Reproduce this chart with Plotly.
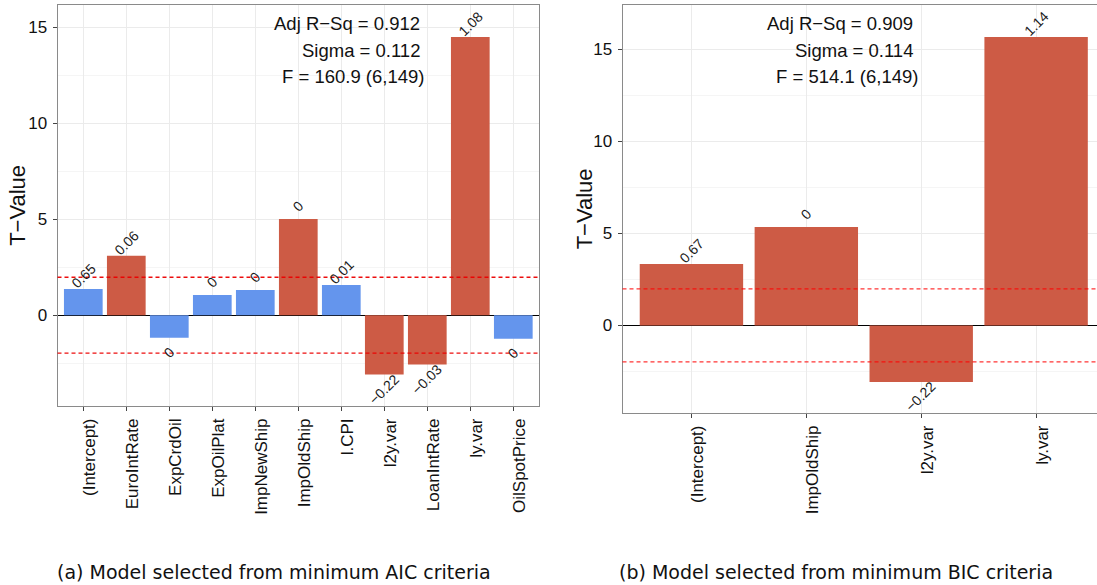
import plotly.graph_objects as go

W, H = 1097, 585

# Model (a): terms kept by minimum AIC
aic_terms = ["(Intercept)", "EuroIntRate", "ExpCrdOil", "ExpOilPlat", "ImpNewShip",
             "ImpOldShip", "l.CPI", "l2y.var", "LoanIntRate", "ly.var", "OilSpotPrice"]
aic_tvalue = [1.37, 3.09, -1.17, 1.05, 1.31, 5.01, 1.57, -3.08, -2.57, 14.49, -1.22]
aic_coef = [0.65, 0.06, 0, 0, 0, 0, 0.01, -0.22, -0.03, 1.08, 0]
aic_stats = ["Adj R\u2212Sq = 0.912", "Sigma = 0.112", "F = 160.9 (6,149)"]

# Model (b): terms kept by minimum BIC
bic_terms = ["(Intercept)", "ImpOldShip", "l2y.var", "ly.var"]
bic_tvalue = [3.33, 5.34, -3.07, 15.65]
bic_coef = [0.67, 0, -0.22, 1.14]
bic_stats = ["Adj R\u2212Sq = 0.909", "Sigma = 0.114", "F = 514.1 (6,149)"]

captions = ["(a) Model selected from minimum AIC criteria",
            "(b) Model selected from minimum BIC criteria"]

t_crit = 1.976  # two-sided 5% critical value, 149 df

RED = "#CD5B45"
BLUE = "#6495ED"
FONT = "Liberation Sans, Arial, Helvetica, sans-serif"
FRAME = "#8a8a8a"
GRID = "#EBEBEB"
MINOR = "#F5F5F5"


def fmt(v):
    s = f"{v:g}"
    return s.replace("-", "\u2212")


def px_x(p):
    return p / W


def px_y(p):
    return 1 - p / H


fig = go.Figure()

panels = [
    dict(terms=aic_terms, t=aic_tvalue, coef=aic_coef, stats=aic_stats,
         xa="x", ya="y", xdom=[57.5, 539.1], ytop=5, ybot=405.7,
         xrange=[-0.6, len(aic_terms) - 0.4], yrange=[-4.71, 16.15],
         stat_right=[421.7, 421.7, 425.7], ytitle_x=17.5, cap_x=273.5,
         mirror_y=True, dash_col="rgba(235,0,0,0.95)"),
    dict(terms=bic_terms, t=bic_tvalue, coef=bic_coef, stats=bic_stats,
         xa="x2", ya="y2", xdom=[622.5, 1097], ytop=5, ybot=412.7,
         xrange=[-0.6, 3.53], yrange=[-4.74, 17.39],
         stat_right=[915, 915, 920], ytitle_x=584.5, cap_x=836,
         mirror_y=False, dash_col="rgba(255,0,0,0.8)"),
]

annotations = []
shapes = []
for i, p in enumerate(panels):
    colors = [RED if abs(v) > t_crit else BLUE for v in p["t"]]
    fig.add_trace(go.Bar(
        x=p["terms"], y=p["t"], width=0.9, marker=dict(color=colors, line=dict(width=0)),
        xaxis=p["xa"], yaxis=p["ya"], showlegend=False, hoverinfo="x+y"))

    # coefficient labels at the end of each bar
    for term, tv, cf in zip(p["terms"], p["t"], p["coef"]):
        annotations.append(dict(
            x=term, y=tv, xref=p["xa"], yref=p["ya"], text=fmt(cf), showarrow=False,
            textangle=-45, xanchor="center", yanchor="middle",
            yshift=13 if tv >= 0 else -14.5,
            font=dict(family=FONT, size=14, color="#1a1a1a")))

    # significance thresholds
    for lvl in (t_crit, -t_crit):
        shapes.append(dict(
            type="line", xref=f"{p['xa']} domain", yref=p["ya"], x0=0, x1=1, y0=lvl, y1=lvl,
            line=dict(color=p["dash_col"], width=1.3, dash="4px,3px"), layer="above"))

    # model fit statistics
    for j, (txt, xr) in enumerate(zip(p["stats"], p["stat_right"])):
        annotations.append(dict(
            x=px_x(xr), y=px_y([23.3, 50.0, 76.7][j]), xref="paper", yref="paper",
            text=txt, showarrow=False, xanchor="right", yanchor="middle",
            font=dict(family=FONT, size=18.5, color="#111111")))

    # y-axis title
    annotations.append(dict(
        x=px_x(p["ytitle_x"]), y=px_y((p["ytop"] + p["ybot"]) / 2), xref="paper", yref="paper",
        text="T\u2212Value", textangle=-90, showarrow=False, xanchor="center", yanchor="middle",
        font=dict(family=FONT, size=22, color="#111111")))

    # sub-figure caption
    annotations.append(dict(
        x=px_x(p["cap_x"]), y=px_y(572), xref="paper", yref="paper",
        text=captions[i], showarrow=False, xanchor="center", yanchor="middle",
        font=dict(family="DejaVu Sans, sans-serif", size=19, color="#111111")))

    xkey = "xaxis" if p["xa"] == "x" else "xaxis2"
    ykey = "yaxis" if p["ya"] == "y" else "yaxis2"
    fig.layout[xkey] = dict(
        domain=[px_x(p["xdom"][0]), px_x(p["xdom"][1])], anchor=p["ya"],
        type="category", range=p["xrange"], tickangle=-90,
        ticks="outside", ticklen=4, tickcolor="#444444", tickwidth=1,
        showline=True, linecolor=FRAME, linewidth=1, mirror=True,
        showgrid=True, gridcolor=GRID, gridwidth=1, zeroline=False,
        tickfont=dict(family=FONT, size=17, color="#111111"),
        ticklabelshift=6, ticklabelstandoff=1, automargin=False, fixedrange=True)
    fig.layout[ykey] = dict(
        domain=[px_y(p["ybot"]), px_y(p["ytop"])], anchor=p["xa"],
        range=p["yrange"], tickvals=[0, 5, 10, 15],
        ticks="outside", ticklen=4, tickcolor="#444444", tickwidth=1,
        showline=True, linecolor=FRAME, linewidth=1, mirror=p["mirror_y"],
        showgrid=True, gridcolor=GRID, gridwidth=1,
        minor=dict(tickvals=[-2.5, 2.5, 7.5, 12.5], showgrid=True, gridcolor=MINOR, ticks=""),
        zeroline=True, zerolinecolor="#000000", zerolinewidth=1,
        tickfont=dict(family=FONT, size=17, color="#111111"),
        ticklabelstandoff=2, automargin=False, fixedrange=True)

fig.update_layout(
    template="none", width=W, height=H, autosize=False,
    margin=dict(l=0, r=0, t=0, b=0, pad=0),
    paper_bgcolor="white", plot_bgcolor="white",
    bargap=0.1, showlegend=False,
    annotations=annotations, shapes=shapes,
    font=dict(family=FONT, color="#111111"))

fig.write_html("out.html", config=dict(displayModeBar=False))
